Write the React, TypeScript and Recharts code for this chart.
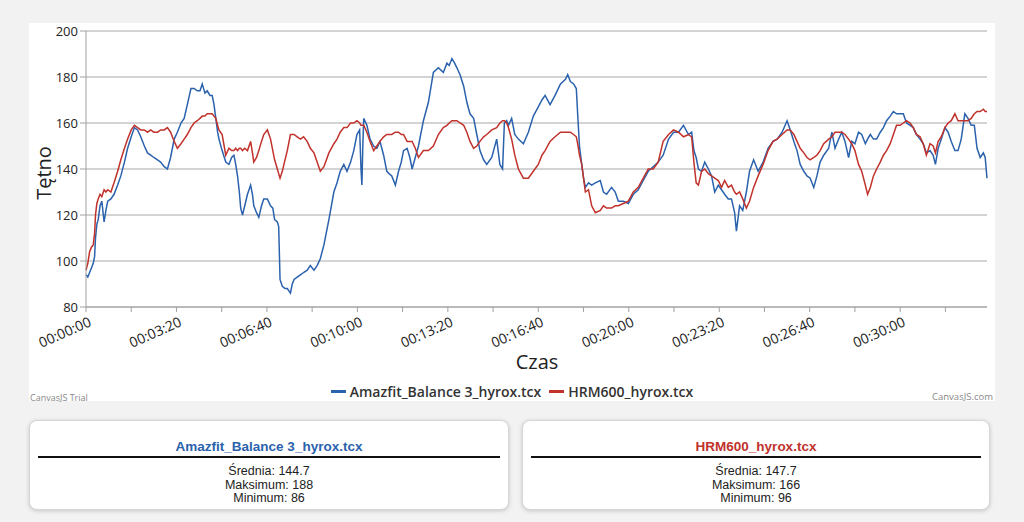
import React from 'react'
import { LineChart, Line, XAxis, YAxis, CartesianGrid } from 'recharts'

// ── Data (seconds from start, heart rate in bpm) ─────────────────────────────

const seconds = [
  0, 4, 8, 12, 16, 19, 21, 24, 27, 31,
  35, 40, 44, 48, 55, 62, 70, 77, 85, 92,
  100, 107, 114, 121, 129, 136, 143, 150, 158, 165,
  173, 180, 187, 195, 202, 210, 217, 224, 232, 239,
  246, 252, 257, 263, 268, 274, 279, 283, 287, 291,
  294, 301, 309, 316, 322, 327, 331, 335, 339, 342,
  346, 351, 357, 364, 368, 371, 377, 382, 388, 393,
  401, 408, 413, 417, 423, 426, 429, 434, 440, 445,
  452, 456, 460, 467, 474, 481, 489, 496, 504, 511,
  518, 526, 537, 548, 555, 562, 570, 577, 585, 592,
  599, 605, 608, 610, 612, 614, 621, 628, 636, 643,
  650, 658, 665, 670, 676, 684, 691, 697, 702, 710,
  716, 721, 728, 735, 746, 757, 768, 779, 790, 798,
  803, 809, 815, 820, 827, 835, 842, 849, 857, 864,
  871, 879, 886, 897, 908, 915, 921, 925, 930, 934,
  941, 948, 956, 967, 978, 989, 1000, 1008, 1015, 1026,
  1037, 1049, 1060, 1065, 1071, 1078, 1084, 1087, 1091, 1096,
  1100, 1104, 1111, 1118, 1126, 1137, 1144, 1151, 1162, 1170,
  1177, 1188, 1199, 1210, 1221, 1232, 1243, 1254, 1265, 1276,
  1288, 1299, 1310, 1321, 1332, 1339, 1344, 1349, 1354, 1361,
  1368, 1376, 1383, 1390, 1398, 1405, 1412, 1420, 1427, 1434,
  1438, 1445, 1452, 1460, 1467, 1476, 1486, 1497, 1508, 1519,
  1528, 1539, 1550, 1557, 1565, 1572, 1579, 1587, 1594, 1601,
  1609, 1616, 1623, 1631, 1642, 1649, 1656, 1664, 1671, 1678,
  1686, 1693, 1700, 1708, 1715, 1723, 1728, 1734, 1741, 1748,
  1756, 1763, 1770, 1778, 1785, 1792, 1800, 1807, 1814, 1822,
  1829, 1836, 1844, 1851, 1858, 1866, 1873, 1878, 1884, 1891,
  1899, 1906, 1913, 1921, 1928, 1935, 1943, 1950, 1957, 1964,
  1970, 1977, 1984, 1988, 1992,
]

const amazfit = [
  94, 93, 95, 97, 99, 102, 110, 116, 118, 124,
  126, 117, 122, 126, 127, 129, 133, 137, 143, 149,
  154, 158, 157, 154, 150, 147, 146, 145, 144, 143,
  141, 140, 145, 153, 156, 160, 162, 168, 175, 175,
  174, 174, 177, 173, 174, 172, 172, 168, 162, 156,
  153, 148, 143, 142, 145, 146, 142, 137, 130, 123,
  120, 124, 129, 133, 129, 124, 121, 119, 124, 127,
  127, 124, 123, 118, 117, 115, 92, 89, 88, 88,
  86, 90, 92, 93, 94, 95, 96, 98, 96, 98,
  101, 107, 118, 130, 134, 139, 142, 139, 143, 148,
  155, 157, 140, 133, 150, 162, 159, 153, 150, 149,
  152, 146, 139, 138, 137, 133, 139, 143, 148, 149,
  145, 140, 145, 150, 161, 169, 182, 184, 182, 186,
  185, 188, 186, 184, 181, 176, 169, 164, 162, 155,
  148, 144, 142, 145, 153, 142, 140, 160, 161, 159,
  162, 155, 153, 151, 156, 163, 167, 170, 172, 168,
  172, 177, 179, 181, 178, 177, 175, 164, 150, 142,
  136, 132, 134, 133, 134, 135, 130, 129, 132, 130,
  126, 126, 125, 129, 131, 135, 139, 141, 143, 146,
  153, 156, 156, 159, 155, 156, 148, 145, 140, 139,
  143, 140, 137, 130, 133, 131, 129, 127, 127, 121,
  113, 124, 122, 130, 139, 144, 139, 143, 149, 152,
  153, 156, 161, 157, 152, 148, 142, 139, 137, 136,
  132, 137, 143, 146, 149, 156, 149, 153, 156, 152,
  145, 152, 151, 156, 155, 151, 153, 155, 153, 153,
  156, 158, 161, 163, 165, 164, 164, 164, 160, 159,
  158, 155, 153, 151, 147, 148, 146, 142, 149, 153,
  158, 156, 152, 148, 148, 153, 164, 162, 159, 159,
  149, 145, 147, 145, 136,
]

const hrm600 = [
  96, 99, 104, 106, 107, 112, 120, 125, 127, 129,
  128, 131, 130, 131, 130, 134, 139, 144, 149, 153,
  157, 159, 158, 157, 157, 156, 157, 156, 156, 157,
  157, 158, 156, 152, 149, 151, 153, 155, 158, 160,
  161, 162, 163, 163, 164, 164, 164, 163, 162, 159,
  157, 155, 146, 149, 148, 148, 149, 148, 149, 149,
  148, 149, 148, 152, 147, 143, 145, 148, 152, 155,
  157, 153, 148, 144, 140, 138, 136, 139, 144, 148,
  155, 155, 155, 154, 153, 154, 152, 149, 147, 143,
  139, 141, 147, 151, 153, 156, 158, 158, 160, 160,
  161, 160, 159, 159, 159, 159, 156, 152, 148, 150,
  152, 154, 155, 155, 155, 156, 156, 155, 155, 152,
  152, 152, 149, 145, 148, 148, 150, 155, 158, 159,
  160, 161, 161, 161, 160, 159, 156, 152, 149, 150,
  152, 154, 155, 157, 158, 160, 161, 161, 160, 158,
  153, 146, 140, 136, 136, 139, 142, 146, 148, 152,
  154, 156, 156, 156, 156, 155, 154, 151, 146, 142,
  136, 130, 131, 124, 121, 122, 124, 123, 123, 124,
  124, 125, 126, 130, 132, 136, 140, 140, 143, 152,
  155, 157, 156, 154, 155, 154, 143, 134, 133, 139,
  140, 138, 137, 136, 135, 132, 135, 132, 133, 130,
  129, 130, 127, 123, 126, 132, 137, 142, 148, 152,
  153, 155, 157, 157, 155, 152, 149, 147, 145, 144,
  145, 146, 148, 151, 153, 154, 156, 156, 156, 155,
  153, 151, 148, 142, 139, 133, 129, 132, 137, 140,
  143, 146, 148, 151, 155, 159, 159, 160, 161, 160,
  158, 155, 154, 151, 146, 151, 150, 147, 152, 154,
  158, 160, 161, 164, 161, 161, 161, 161, 162, 164,
  165, 165, 166, 165, 165,
]

const xTicks = [0, 100, 200, 300, 400, 500, 600, 700, 800, 900, 1000, 1100, 1200, 1300, 1400, 1500, 1600, 1700, 1800, 1900]
const yTicks = [80, 100, 120, 140, 160, 180, 200]

const SERIES = [
  { key: 'amazfit', name: 'Amazfit_Balance 3_hyrox.tcx', color: '#2b62ad', mean: 144.7, max: 188, min: 86 },
  { key: 'hrm600', name: 'HRM600_hyrox.tcx', color: '#c0322b', mean: 147.7, max: 166, min: 96 },
]

const rows = seconds.map((t, i) => ({ t, amazfit: amazfit[i], hrm600: hrm600[i] }))

const pad = (n: number) => String(n).padStart(2, '0')
const hms = (s: number) => `${pad(Math.floor(s / 3600))}:${pad(Math.floor((s % 3600) / 60))}:${pad(s % 60)}`

const FONT = '"Open Sans", sans-serif'

function TimeTick({ x, y, payload }: { x: number; y: number; payload: { value: number } }) {
  if (payload.value % 200 !== 0) return <g />
  return (
    <g transform={`translate(${x + 2},${y + 2})`}>
      <text textAnchor="end" transform="rotate(-24)" dy="0.74em" fontSize={14} fill="#222" fontFamily={FONT}>
        {hms(payload.value)}
      </text>
    </g>
  )
}

function StatCard({ s, left, width }: { s: typeof SERIES[number]; left: number; width: number }) {
  return (
    <div style={{
      position: 'absolute', left, top: 420, width, height: 90, background: 'white',
      border: '1px solid #d6d6d6', borderRadius: 8, boxShadow: '0 1px 4px rgba(0,0,0,0.18)',
      fontFamily: '"Liberation Sans", Arial, sans-serif', textAlign: 'center', boxSizing: 'border-box',
    }}>
      <div style={{ marginTop: 18, fontSize: 13.5, fontWeight: 700, color: s.color }}>{s.name}</div>
      <div style={{ margin: '2px 8px 0', borderTop: '2px solid #111' }} />
      <div style={{ marginTop: 7, fontSize: 12.5, lineHeight: '13.5px', color: '#222' }}>
        <div>Średnia: {s.mean}</div>
        <div>Maksimum: {s.max}</div>
        <div>Minimum: {s.min}</div>
      </div>
    </div>
  )
}

export default function App() {
  return (
    <div style={{ position: 'absolute', left: 0, top: 0, width: 1024, height: 522, background: '#f2f2f2', overflow: 'hidden' }}>
      <div style={{ position: 'absolute', left: 29, top: 23, width: 966, height: 378, background: 'white' }}>
        <LineChart width={966} height={378} data={rows} margin={{ top: 8, right: 8, left: 7, bottom: 34 }}>
          <CartesianGrid vertical={false} stroke="#a8a8a8" />
          <XAxis dataKey="t" type="number" domain={[0, 1992]} ticks={xTicks} interval={0}
            height={60} stroke="#a0a0a0" tick={TimeTick} tickSize={5} />
          <YAxis type="number" domain={[80, 200]} ticks={yTicks} width={50} interval={0}
            stroke="#a0a0a0" tickSize={6} tickMargin={2}
            tick={{ fontSize: 13, fill: '#222', fontFamily: FONT }} />
          {SERIES.map(s => (
            <Line key={s.key} dataKey={s.key} name={s.name} type="linear" stroke={s.color}
              strokeWidth={1.5} dot={false} isAnimationActive={false} />
          ))}
        </LineChart>

        <div style={{
          position: 'absolute', left: 14, top: 150, transform: 'translate(-50%,-50%) rotate(-90deg)',
          fontFamily: FONT, fontSize: 20, color: '#222', whiteSpace: 'nowrap',
        }}>Tętno</div>
        <div style={{
          position: 'absolute', left: 508, top: 325, transform: 'translateX(-50%)',
          fontFamily: FONT, fontSize: 20, color: '#222',
        }}>Czas</div>

        <div style={{
          position: 'absolute', left: 0, right: 0, top: 359, display: 'flex', justifyContent: 'center',
          gap: 8, fontFamily: FONT, fontSize: 14, fontWeight: 600, color: '#333',
        }}>
          {SERIES.map(s => (
            <span key={s.key} style={{ display: 'flex', alignItems: 'center', gap: 4 }}>
              <span style={{ display: 'inline-block', width: 15, height: 3, background: s.color }} />
              {s.name}
            </span>
          ))}
        </div>

        <div style={{ position: 'absolute', left: 1, top: 368, fontFamily: FONT, fontSize: 9, color: '#888' }}>CanvasJS Trial</div>
        <div style={{ position: 'absolute', right: 2, top: 367, fontFamily: FONT, fontSize: 9.5, color: '#888' }}>CanvasJS.com</div>
      </div>

      <StatCard s={SERIES[0]} left={29} width={480} />
      <StatCard s={SERIES[1]} left={522} width={468} />
    </div>
  )
}
